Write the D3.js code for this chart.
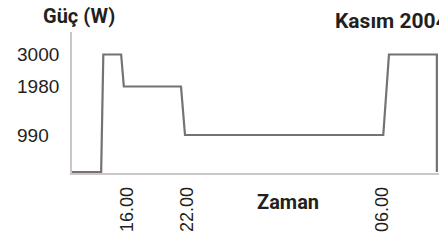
<!DOCTYPE html>
<html>
<head>
<meta charset="utf-8">
<script src="https://cdn.jsdelivr.net/npm/d3@7"></script>
<style>
  body { margin: 0; background: #fff; }
  svg { display: block; }
  .bold { font-family: Roboto, "Liberation Sans", sans-serif; font-weight: 700; fill: #231f20; }
</style>
</head>
<body>
<svg id="chart" width="439" height="241"></svg>
<script>
// hours since midnight (past 24 = next morning)
const hours = [11, 13.7, 13.9, 15.55, 15.8, 21.5, 21.9, 30.1, 30.35, 32.45, 32.45];
const watts = [0, 0, 3000, 3000, 1980, 1980, 990, 990, 3000, 3000, 0];

const yTicks = [990, 1980, 3000];
const xTicks = [16, 22, 30];
const xTickLabels = ['16.00', '22.00', '06.00'];

const svg = d3.select('#chart');

// the original axes are not linear, so both scales are piecewise
const x = d3.scaleLinear()
    .domain([11, 16, 22, 30, 32.5])
    .range([72, 126, 186, 381, 438]);

const y = d3.scaleLinear()
    .domain([0, 990, 1980, 3000])
    .range([172, 135, 86.5, 54.5]);

// axis lines
svg.append('line')
    .attr('x1', 71).attr('x2', 71)
    .attr('y1', 32).attr('y2', 175)
    .attr('stroke', '#cdc6c6').attr('stroke-width', 2);

svg.append('line')
    .attr('x1', 70).attr('x2', 439)
    .attr('y1', 174).attr('y2', 174)
    .attr('stroke', '#cdc6c6').attr('stroke-width', 2);

const tickFont = '"Liberation Sans", Arial, sans-serif';

// y labels, left aligned
const yAxis = svg.append('g')
    .attr('transform', 'translate(17,0)')
    .call(d3.axisRight(y).tickValues(yTicks).tickSize(0).tickPadding(0).tickFormat(d3.format('d')));
yAxis.select('.domain').remove();
yAxis.selectAll('text')
    .style('font-family', tickFont)
    .style('font-size', '19px')
    .style('fill', '#231f20')
    .attr('dy', '0.34em');

// x labels, rotated
const xAxis = svg.append('g')
    .attr('transform', 'translate(0,174)')
    .call(d3.axisBottom(x).tickValues(xTicks).tickSize(0)
        .tickFormat((d, i) => xTickLabels[i]));
xAxis.select('.domain').remove();
xAxis.selectAll('text')
    .style('font-family', tickFont)
    .style('font-size', '18px')
    .style('fill', '#231f20')
    .style('text-anchor', 'end')
    .attr('transform', 'rotate(-90)')
    .attr('x', -13)
    .attr('y', 0)
    .attr('dy', '0.36em');

const line = d3.line()
    .x((d, i) => x(hours[i]))
    .y(d => y(d));

svg.append('path')
    .datum(watts)
    .attr('d', line)
    .attr('fill', 'none')
    .attr('stroke', '#777171')
    .attr('stroke-width', 2.2)
    .attr('stroke-linejoin', 'miter');

svg.append('text').attr('class', 'bold')
    .attr('x', 43).attr('y', 23)
    .style('font-size', '20px')
    .text('Güç (W)');

// cut off at the right edge, as in the original
svg.append('text').attr('class', 'bold')
    .attr('x', 335).attr('y', 28)
    .style('font-size', '21px')
    .text('Kasım 2004');

svg.append('text').attr('class', 'bold')
    .attr('x', 257).attr('y', 209)
    .style('font-size', '20px')
    .text('Zaman');
</script>
</body>
</html>
